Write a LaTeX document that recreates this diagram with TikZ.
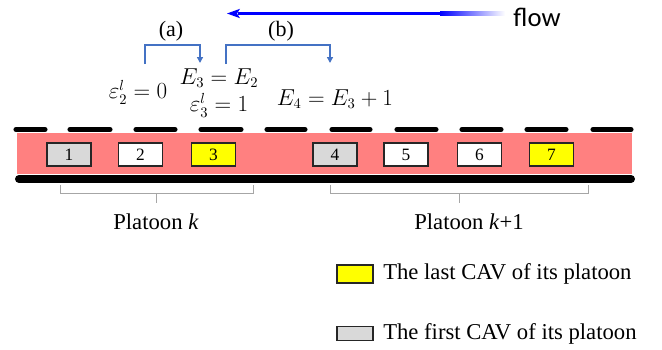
\documentclass[tikz,border=0pt]{standalone}
\usepackage{fontspec}
\setmainfont{Liberation Serif}
\newfontfamily\flowfont{Carlito}
\usetikzlibrary{arrows.meta}

\definecolor{roadred}{RGB}{255,128,128}
\definecolor{bracketblue}{RGB}{68,114,196}
\definecolor{firstgray}{RGB}{217,217,217}
\definecolor{lastyellow}{RGB}{255,255,0}

\tikzset{
  car/.style={draw=black!85, line width=1.1pt, minimum width=33pt, minimum height=17.25pt,
    inner sep=0pt, font=\fontsize{13}{15}\selectfont},
  lbl/.style={font=\fontsize{17}{20}\selectfont, inner sep=0pt},
  mathlbl/.style={font=\fontsize{16}{19}\selectfont, inner sep=0pt},
  bracket/.style={draw=bracketblue, line width=1.5pt, -{Triangle[width=4.5pt,length=4.5pt]}},
  platoonbrace/.style={draw=black!35, line width=0.75pt},
  lanemark/.style={line width=3.8pt, line cap=round},
}

\begin{document}
\begin{tikzpicture}[x=0.75pt,y=-0.75pt]
			%%%%% START %%%%%
			\useasboundingbox (0,0) rectangle (662,350);
			
			% flow direction
			\fill[blue] (238,11.8) rectangle (440,15.2);
			\shade[left color=blue, right color=white] (440,11.8) rectangle (505,15.2);
			\fill[blue] (227,13.5) -- (240,8.8) -- (237,13.5) -- (240,18.2) -- cycle;
			\node[font=\flowfont\fontsize{20}{24}\selectfont, inner sep=0pt] (flow) at (537,17) {flow};
			
			% road
			\fill[roadred] (17,133) rectangle (632,174);
			\draw[line width=6pt, line cap=round] (19,179) -- (631,179);
			\foreach \xa/\xb in {16/45, 70/110, 136/175, 201/241, 267/305, 332/370, 397/436, 462/501, 527/566, 593/631}
				\draw[lanemark] (\xa,129.5) -- (\xb,129.5);
			
			% vehicles
			\foreach \n/\xc/\col in {1/69/firstgray, 2/140.5/white, 3/213.5/lastyellow, 4/335/firstgray,
				5/406/white, 6/479.5/white, 7/551.5/lastyellow}
				\node[car, fill=\col] (c\n) at (\xc,154.5) {\n};
			
			% equations
			\node[mathlbl] (eps2) at (138,92) {$\varepsilon_2^l = 0$};
			\node[mathlbl] (E3) at (219,78) {$E_3 = E_2$};
			\node[mathlbl] (eps3) at (219,105) {$\varepsilon_3^l = 1$};
			\node[mathlbl] (E4) at (335,99) {$E_4 = E_3 + 1$};
			
			\node[lbl, font=\fontsize{16.5}{20}\selectfont] (casea) at (171,31) {(a)};
			\node[lbl, font=\fontsize{16.5}{20}\selectfont] (caseb) at (281,31) {(b)};
			
			\coordinate (a0) at (145,64);
			\coordinate (a1) at (200,63);
			\coordinate (b0) at (226,64);
			\coordinate (b1) at (330,63);
			\draw[bracket] (a0) -- (145,44.5) -| (a1);
			\draw[bracket] (b0) -- (226,44.5) -| (b1);
			
			% platoons
			\draw[platoonbrace] (60,185) -- (60,193) -- (253,193) -- (253,185);
			\draw[platoonbrace] (156,193) -- (156,203);
			\draw[platoonbrace] (330,185) -- (330,193) -- (588,193) -- (588,185);
			\draw[platoonbrace] (459,193) -- (459,203);
			\node[lbl] (pk) at (156,222) {Platoon \textit{k}};
			\node[lbl] (pk1) at (469,222) {Platoon \textit{k}+1};
			
			% legend
			\node[draw=black!85, line width=1.1pt, fill=lastyellow, minimum width=27pt, minimum height=13.5pt, inner sep=0pt] (keylast) at (355,274) {};
			\node[draw=black!85, line width=1.1pt, fill=firstgray, minimum width=27pt, minimum height=10.5pt, inner sep=0pt] (keyfirst) at (355,333.5) {};
			\node[lbl, anchor=west] (txtlast) at (383,274) {The last CAV of its platoon};
			\node[lbl, anchor=west] (txtfirst) at (383,334) {The first CAV of its platoon};
			
			%%%%% END %%%%%
\end{tikzpicture}
\end{document}
